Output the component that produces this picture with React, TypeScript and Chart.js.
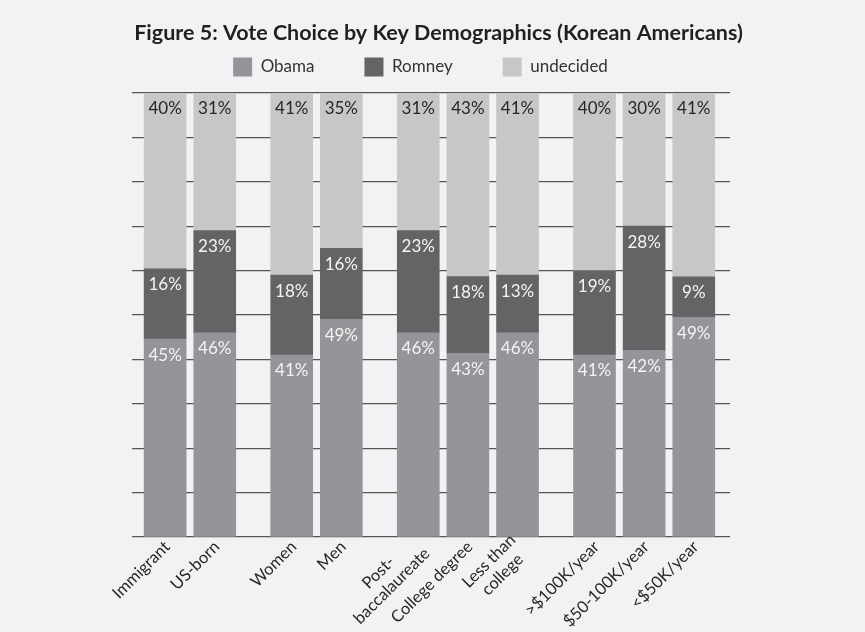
import React, { useEffect, useRef } from 'react';
import { Chart, registerables } from 'chart.js';

Chart.register(...registerables);

// ---------- data ----------
const CATEGORIES: (string | string[])[] = [
  'Immigrant',
  'US-born',
  'Women',
  'Men',
  ['Post-', 'baccalaureate'],
  'College degree',
  ['Less than', 'college'],
  '>$100K/year',
  '$50-100K/year',
  '<$50K/year',
];
// which demographic group each category belongs to (gaps between groups)
const GROUPS = [0, 0, 1, 1, 2, 2, 2, 3, 3, 3];
const OBAMA = [45, 46, 41, 49, 46, 43, 46, 41, 42, 49];
const ROMNEY = [16, 23, 18, 16, 23, 18, 13, 19, 28, 9];
const UNDECIDED = [40, 31, 41, 35, 31, 43, 41, 40, 30, 41];
const SERIES_NAMES = ['Obama', 'Romney', 'undecided'];
const TITLE = 'Figure 5: Vote Choice by Key Demographics (Korean Americans)';

// ---------- styling ----------
const SERIES_COLORS = ['#939598', '#636466', '#c6c7c9'];
const LABEL_COLORS = ['#f4f4f4', '#f4f4f4', '#262626'];
const BG = '#f1f2f4';
const GROUP_GAP = 0.55;
const FONT = 'Lato, "Open Sans", sans-serif';

const X_POS = GROUPS.map((g, i) => i + g * GROUP_GAP);
const RAW = [OBAMA, ROMNEY, UNDECIDED];
const TOTALS = OBAMA.map((v, i) => v + ROMNEY[i] + UNDECIDED[i]);

const bgPlugin = {
  id: 'bgFill',
  beforeDraw(chart: any) {
    const { ctx, width, height } = chart;
    ctx.save();
    ctx.fillStyle = BG;
    ctx.fillRect(0, 0, width, height);
    ctx.restore();
  },
};

// place title and legend like the original figure
const headerPlace = {
  id: 'headerPlace',
  afterLayout(chart: any) {
    const t = chart.titleBlock;
    if (t) {
      t.left = 12;
      t.right = chart.width;
    }
    const lg = chart.legend;
    if (lg) {
      const pad = lg.options.labels.padding;
      const itemTop = 57.5;
      lg.top = itemTop - pad;
      lg.bottom = chart.chartArea.top;
      lg.left = 0;
      lg.right = 841;
    }
  },
};

const valueLabels = {
  id: 'valueLabels',
  afterDatasetsDraw(chart: any) {
    const ctx = chart.ctx;
    ctx.save();
    ctx.font = `17px ${FONT}`;
    ctx.textAlign = 'center';
    ctx.textBaseline = 'middle';
    chart.data.datasets.forEach((_ds: any, di: number) => {
      const meta = chart.getDatasetMeta(di);
      meta.data.forEach((bar: any, i: number) => {
        const p = bar.getProps(['x', 'y', 'base'], true);
        const top = Math.min(p.y, p.base);
        ctx.fillStyle = LABEL_COLORS[di];
        ctx.fillText(`${RAW[di][i]}%`, p.x, top + 16);
      });
    });
    ctx.restore();
  },
};

// rotated category labels, multi-line labels centred line by line
const categoryLabels = {
  id: 'categoryLabels',
  afterDraw(chart: any) {
    const ctx = chart.ctx;
    const xs = chart.scales.x;
    const lineH = 19;
    ctx.save();
    ctx.font = `16.5px ${FONT}`;
    ctx.fillStyle = '#262626';
    ctx.textBaseline = 'middle';
    ctx.textAlign = 'center';
    CATEGORIES.forEach((lab, i) => {
      const lines = Array.isArray(lab) ? lab : [lab];
      const px = xs.getPixelForValue(X_POS[i]);
      const widths = lines.map((l) => ctx.measureText(l).width);
      const maxW = Math.max(...widths);
      ctx.save();
      ctx.translate(px + 2, xs.top + 7);
      ctx.rotate(-Math.PI / 4);
      lines.forEach((l, j) => {
        const yOff = (j - (lines.length - 1) / 2) * lineH;
        ctx.fillText(l, -maxW / 2, yOff);
      });
      ctx.restore();
    });
    ctx.restore();
  },
};

export default function App() {
  const canvasRef = useRef<HTMLCanvasElement | null>(null);

  useEffect(() => {
    document.body.style.margin = '0';
    document.body.style.background = BG;
    const canvas = canvasRef.current;
    if (!canvas) return;

    const datasets = RAW.map((series, si) => ({
      label: SERIES_NAMES[si],
      data: series.map((v, i) => ({ x: X_POS[i], y: (v / TOTALS[i]) * 100 })),
      backgroundColor: SERIES_COLORS[si],
      borderWidth: 0,
      barThickness: 42,
    }));

    const chart = new Chart(canvas, {
      type: 'bar',
      data: { datasets },
      plugins: [bgPlugin, headerPlace, valueLabels, categoryLabels],
      options: {
        responsive: false,
        animation: false,
        layout: { padding: { left: 0, right: 135, top: 0, bottom: 0 } },
        font: { family: FONT },
        plugins: {
          title: {
            display: true,
            text: TITLE,
            color: '#231f20',
            font: { family: FONT, size: 21.5, weight: 'bold' },
            padding: { top: 20.1, bottom: 6.9 },
          },
          legend: {
            display: true,
            maxHeight: 40.2,
            labels: {
              color: '#333333',
              font: { family: FONT, size: 17 },
              boxWidth: 19,
              boxHeight: 19,
              padding: 50,
            },
          },
          tooltip: { enabled: false },
        },
        scales: {
          x: {
            type: 'linear',
            stacked: true,
            offset: false,
            min: -0.667,
            max: 11.38,
            grid: { display: false, drawTicks: false, offset: false },
            border: { display: false },
            afterBuildTicks(scale: any) {
              scale.ticks = X_POS.map((v) => ({ value: v }));
            },
            afterFit(scale: any) {
              scale.height = 95;
            },
            ticks: { display: false, autoSkip: false },
          },
          y: {
            stacked: true,
            min: 0,
            max: 100,
            grid: { color: '#555555', lineWidth: 1.3, drawTicks: false },
            border: { display: false },
            ticks: { display: false, stepSize: 10 },
            afterFit(scale: any) {
              scale.width = 132;
            },
          },
        },
      },
    } as any);

    return () => chart.destroy();
  }, []);

  return (
    <div style={{ width: 865, height: 632, background: BG }}>
      <canvas ref={canvasRef} width={865} height={632} />
    </div>
  );
}
